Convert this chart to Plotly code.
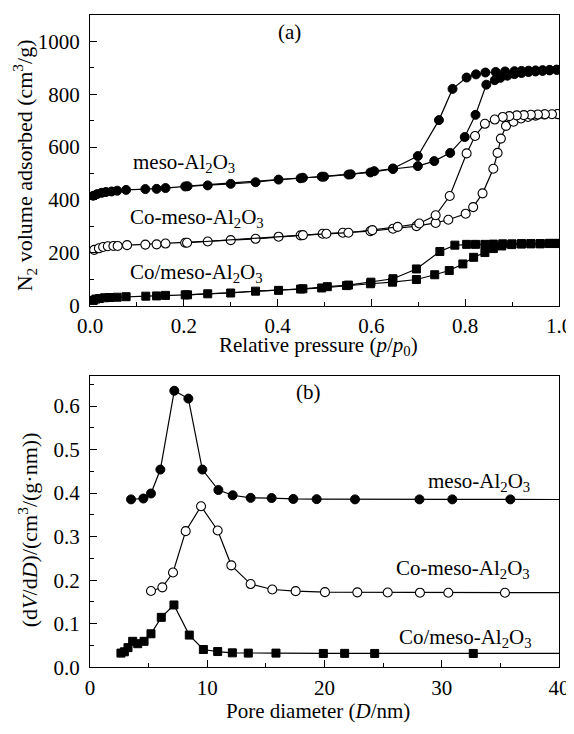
import plotly.graph_objects as go

# ---------------- Panel (a): N2 isotherms ----------------
meso_ads_p = [0.007,0.015,0.025,0.034,0.046,0.058,0.077,0.118,0.142,0.161,0.203,0.251,0.300,0.353,0.402,0.449,0.494,0.551,0.598,0.646,0.699,0.734,0.768,0.799,0.822,0.845,0.863,0.875,0.89,0.905,0.92,0.935,0.95,0.965,0.98,0.995]
meso_ads_v = [416,422,427,430,432,435,438,441,442,445,451,455,461,467,477,482,488,496,504,517,528,547,578,638,722,836,853,862,870,876,880,884,886,888,890,892]
meso_des_p = [0.995,0.98,0.965,0.95,0.935,0.92,0.905,0.885,0.865,0.843,0.823,0.803,0.773,0.744,0.699,0.646,0.606,0.556,0.499,0.454,0.208]
meso_des_v = [893,892,891,890,889,888,887,886,884,882,875,863,820,702,566,519,509,497,488,484,452]

como_ads_p = [0.009,0.019,0.028,0.038,0.050,0.059,0.079,0.118,0.142,0.161,0.203,0.251,0.300,0.353,0.402,0.449,0.496,0.539,0.598,0.646,0.696,0.737,0.764,0.801,0.817,0.837,0.860,0.869,0.876,0.887,0.903,0.919,0.934,0.950,0.969,0.997]
como_ads_v = [211,217,222,225,226,226,229,231,232,235,238,243,248,253,261,266,272,276,282,291,301,313,325,348,373,425,518,578,632,680,696,708,714,719,723,724]
como_des_p = [0.997,0.985,0.97,0.955,0.94,0.925,0.91,0.894,0.880,0.863,0.842,0.821,0.803,0.767,0.737,0.702,0.656,0.602,0.551,0.504,0.454,0.207]
como_des_v = [725,724,724,723,722,721,720,717,714,704,688,642,576,415,342,311,298,286,276,272,267,238]

cosl_ads_p = [0.007,0.0125,0.02,0.031,0.042,0.058,0.077,0.119,0.142,0.161,0.203,0.251,0.300,0.353,0.402,0.449,0.494,0.547,0.598,0.645,0.696,0.735,0.766,0.795,0.818,0.842,0.860,0.878,0.899,0.92,0.94,0.96,0.98,0.997]
cosl_ads_v = [20,25,27,30,31,32,34,36,37,39,41,45,48,55,58,63,67,76,83,89,99,117,133,158,183,201,216,226,231,233,234,234,235,235]
cosl_des_p = [0.997,0.98,0.96,0.94,0.92,0.90,0.88,0.860,0.842,0.822,0.803,0.778,0.746,0.696,0.646,0.599,0.551,0.506,0.454,0.208]
cosl_des_v = [236,236,235,235,235,234,234,233,232,232,232,229,205,139,102,89,78,72,64,41]

# ---------------- Panel (b): pore size distributions ----------------
meso_D = [3.50,4.55,5.20,6.00,7.19,8.39,9.58,10.95,12.17,13.70,15.49,17.34,19.33,22.6,28.1,30.9,35.85,45]
meso_dV = [0.3855,0.3875,0.399,0.454,0.635,0.617,0.454,0.407,0.395,0.389,0.3886,0.3865,0.386,0.3855,0.3855,0.3855,0.3855,0.385]
como_D = [5.20,6.17,7.08,8.16,9.47,10.89,12.05,13.70,15.55,17.54,20.04,22.8,25.39,28.14,30.56,35.39,45]
como_dV = [0.175,0.1835,0.2176,0.3125,0.3697,0.314,0.234,0.191,0.1785,0.1747,0.1724,0.172,0.1715,0.1712,0.171,0.171,0.171]
cosl_D = [2.64,2.93,3.24,3.64,4.07,4.61,5.20,6.08,7.16,8.47,9.67,10.89,12.14,13.5,15.86,19.9,21.72,24.28,32.69,45]
cosl_dV = [0.0324,0.0354,0.045,0.0595,0.054,0.0595,0.0768,0.1145,0.143,0.0738,0.0407,0.036,0.033,0.0324,0.0324,0.0316,0.0318,0.0316,0.0316,0.0316]

FONT = "'Liberation Serif', 'Times New Roman', Times, serif"
BLACK = "#000000"

filled_circle = dict(symbol="circle", size=9, color=BLACK, line=dict(color=BLACK, width=1))
open_circle = dict(symbol="circle", size=9, color="white", line=dict(color=BLACK, width=1.1))
filled_square = dict(symbol="square", size=8, color=BLACK, line=dict(color=BLACK, width=1))

fig = go.Figure()

def add(x, y, marker, xa, ya):
    fig.add_trace(go.Scatter(x=x, y=y, mode="lines+markers",
                             line=dict(color=BLACK, width=1.2),
                             marker=marker, xaxis=xa, yaxis=ya,
                             showlegend=False, hoverinfo="x+y"))

add(meso_ads_p, meso_ads_v, filled_circle, "x", "y")
add(meso_des_p, meso_des_v, filled_circle, "x", "y")
add(como_ads_p, como_ads_v, open_circle, "x", "y")
add(como_des_p, como_des_v, open_circle, "x", "y")
add(cosl_ads_p, cosl_ads_v, filled_square, "x", "y")
add(cosl_des_p, cosl_des_v, filled_square, "x", "y")

add(meso_D, meso_dV, filled_circle, "x2", "y2")
add(como_D, como_dV, open_circle, "x2", "y2")
add(cosl_D, cosl_dV, filled_square, "x2", "y2")

# The page body has an 8px default margin, so the figure is drawn 8px smaller
# and all page-pixel positions are shifted by that offset.
OFF = 8
W, H = 574 - OFF, 734 - OFF
L_PAGE, R_PAGE = 90, 559
L, R = L_PAGE - OFF, R_PAGE - OFF

def ydom(top_page, bottom_page):
    return [1 - (bottom_page - OFF) / H, 1 - (top_page - OFF) / H]

axis_common = dict(showline=True, linecolor=BLACK, linewidth=1.3, mirror=True,
                   ticks="inside", ticklen=7, tickwidth=1, tickcolor=BLACK,
                   showgrid=False, zeroline=False, ticklabeloverflow="allow",
                   tickfont=dict(family=FONT, size=21, color=BLACK))

fig.update_layout(
    width=W, height=H,
    paper_bgcolor="white", plot_bgcolor="white",
    font=dict(family=FONT, color=BLACK),
    margin=dict(l=L, r=W - R, t=0, b=0),
    xaxis=dict(domain=[0, 1], range=[0, 1], dtick=0.2, tickformat=".1f",
               anchor="y", ticklabelstandoff=1,
               minor=dict(dtick=0.1, ticks="inside", ticklen=4, tickcolor=BLACK),
               **axis_common),
    yaxis=dict(domain=ydom(15, 310.7), range=[0, 1100], tick0=0, dtick=200,
               anchor="x", ticklabelstandoff=5,
               minor=dict(dtick=100, ticks="inside", ticklen=4, tickcolor=BLACK),
               **axis_common),
    xaxis2=dict(domain=[0, 1], range=[0, 40], dtick=10,
                anchor="y2", ticklabelstandoff=1,
                minor=dict(dtick=5, ticks="inside", ticklen=4, tickcolor=BLACK),
                **axis_common),
    yaxis2=dict(domain=ydom(381.7, 678.3), range=[0, 0.67], tick0=0, dtick=0.1, tickformat=".1f",
                anchor="x2", ticklabelstandoff=5,
                minor=dict(dtick=0.05, ticks="inside", ticklen=4, tickcolor=BLACK),
                **axis_common),
)

def px_x(page_x):
    return (page_x - OFF - L) / (R - L)

def px_y(page_y):
    return 1 - (page_y - OFF) / H

ann = []
def text(t, x, y, xref, yref, size=21, xanchor="center", textangle=0):
    ann.append(dict(text=t, x=x, y=y, xref=xref, yref=yref, showarrow=False,
                    xanchor=xanchor, yanchor="middle", textangle=textangle,
                    font=dict(family=FONT, size=size, color=BLACK)))

# panel labels
text("(a)", 0.426, 1035, "x", "y")
text("(b)", 18.6, 0.632, "x2", "y2")

# series labels panel (a)
text("meso-Al<sub>2</sub>O<sub>3</sub>", 0.087, 540, "x", "y", xanchor="left")
text("Co-meso-Al<sub>2</sub>O<sub>3</sub>", 0.081, 331, "x", "y", xanchor="left")
text("Co/meso-Al<sub>2</sub>O<sub>3</sub>", 0.081, 123, "x", "y", xanchor="left")

# series labels panel (b)
text("meso-Al<sub>2</sub>O<sub>3</sub>", 37.7, 0.425, "x2", "y2", xanchor="right")
text("Co-meso-Al<sub>2</sub>O<sub>3</sub>", 37.7, 0.226, "x2", "y2", xanchor="right")
text("Co/meso-Al<sub>2</sub>O<sub>3</sub>", 37.9, 0.068, "x2", "y2", xanchor="right")

# axis titles
text("Relative pressure (<i>p</i>/<i>p</i><sub>0</sub>)", px_x(318), px_y(352), "paper", "paper")
text("N<sub>2</sub> volume adsorbed (cm<sup>3</sup>/g)", px_x(24), px_y(168), "paper", "paper", size=22, textangle=-90)
text("Pore diameter (<i>D</i>/nm)", px_x(318), px_y(723), "paper", "paper")
text("(d<i>V</i>/d<i>D</i>)/(cm<sup>3</sup>/(g·nm))", px_x(28), px_y(539), "paper", "paper", size=22, textangle=-90)

fig.update_layout(annotations=ann)

fig.write_html("out.html")
